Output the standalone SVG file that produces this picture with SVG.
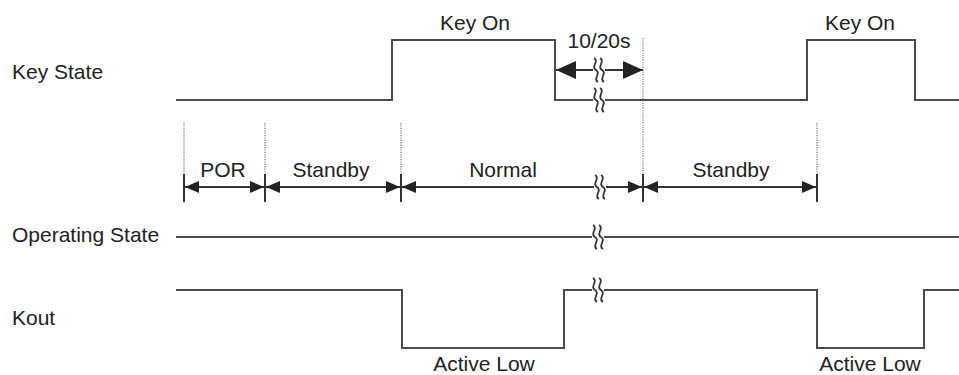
<svg xmlns="http://www.w3.org/2000/svg" width="959" height="375" viewBox="0 0 959 375">
<style>
text{font-family:"Liberation Sans",Arial,sans-serif;font-size:21px;fill:#222}
.m{text-anchor:middle}
.w{fill:none;stroke:#4a4a4a;stroke-width:2}
.d{fill:none;stroke:#777;stroke-width:1.2;stroke-dasharray:1.2,1.2}
.t{stroke:#333;stroke-width:2}
.a{fill:none;stroke:#333;stroke-width:2}
.s{fill:none;stroke:#333;stroke-width:1.8}
</style>
<defs>
<marker id="ah" viewBox="0 0 14 12" refX="14" refY="6" markerWidth="14" markerHeight="12" markerUnits="userSpaceOnUse" orient="auto-start-reverse">
<path d="M0,0 L14,6 L0,12 Z" fill="#222"/>
</marker>
<marker id="ahb" viewBox="0 0 20 18" refX="20" refY="9" markerWidth="20" markerHeight="18" markerUnits="userSpaceOnUse" orient="auto-start-reverse">
<path d="M0,0 L20,9 L0,18 Z" fill="#222"/>
</marker>
<g id="brk">
<rect x="-6" y="-4" width="12" height="8" fill="#fff"/>
<path class="s" d="M-5,-12 C1,-9 -9,-3 -3,0 C3,3 -7,9 -1,12"/>
<path class="s" d="M1,-12 C7,-9 -3,-3 3,0 C9,3 -1,9 5,12"/>
</g>
</defs>
<g id="labels">
<text x="12" y="79">Key State</text>
<text x="12" y="242">Operating State</text>
<text x="12" y="325">Kout</text>
</g>
<g id="key-state">
<path class="w" d="M176,100 H392 V40 H555 V100 H807 V40 H915 V100 H959"/>
<use href="#brk" x="599" y="100"/>
<text class="m" x="475" y="30">Key On</text>
<text class="m" x="860" y="30">Key On</text>
</g>
<g id="timeout">
<line class="a" x1="556" y1="70" x2="643" y2="70" marker-start="url(#ahb)" marker-end="url(#ahb)"/>
<use href="#brk" x="599" y="70"/>
<text class="m" x="599" y="48">10/20s</text>
</g>
<g id="guides">
<line class="d" x1="184" y1="123" x2="184" y2="175"/>
<line class="d" x1="265" y1="123" x2="265" y2="175"/>
<line class="d" x1="401" y1="123" x2="401" y2="175"/>
<line class="d" x1="643" y1="38" x2="643" y2="175"/>
<line class="d" x1="817" y1="123" x2="817" y2="175"/>
<line class="t" x1="184" y1="174" x2="184" y2="202"/>
<line class="t" x1="265" y1="174" x2="265" y2="202"/>
<line class="t" x1="401" y1="174" x2="401" y2="202"/>
<line class="t" x1="643" y1="174" x2="643" y2="202"/>
<line class="t" x1="817" y1="174" x2="817" y2="202"/>
</g>
<g id="connectors">
<line class="a" x1="185" y1="187" x2="264" y2="187" marker-start="url(#ah)" marker-end="url(#ah)"/>
<line class="a" x1="266" y1="187" x2="400" y2="187" marker-start="url(#ah)" marker-end="url(#ah)"/>
<line class="a" x1="402" y1="187" x2="642" y2="187" marker-start="url(#ah)" marker-end="url(#ah)"/>
<line class="a" x1="644" y1="187" x2="816" y2="187" marker-start="url(#ah)" marker-end="url(#ah)"/>
<use href="#brk" x="600" y="187"/>
</g>
<g id="state-labels">
<text class="m" x="223" y="177">POR</text>
<text class="m" x="331" y="177">Standby</text>
<text class="m" x="503" y="177">Normal</text>
<text class="m" x="731" y="177">Standby</text>
</g>
<g id="operating-state">
<line class="w" x1="176" y1="237" x2="959" y2="237"/>
<use href="#brk" x="598" y="237"/>
</g>
<g id="kout">
<path class="w" d="M176,290 H402 V348 H564 V290 H817 V348 H924 V290 H959"/>
<use href="#brk" x="598" y="290"/>
<text class="m" x="484" y="371">Active Low</text>
<text class="m" x="870" y="371">Active Low</text>
</g>
</svg>
